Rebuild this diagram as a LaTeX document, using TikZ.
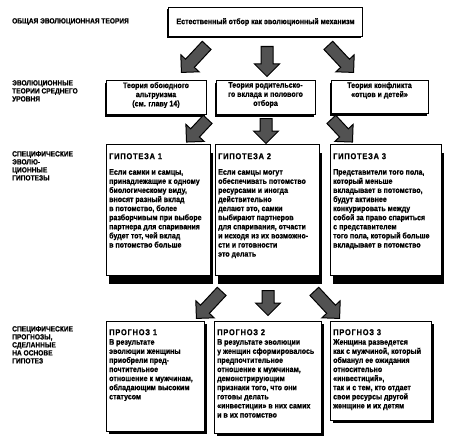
\documentclass[tikz,border=0pt]{standalone}
\usepackage{fontspec}
\setmainfont{Liberation Sans}[FakeStretch=0.88, FakeBold=0.8, UprightFont={* Bold}, BoldFont={* Bold}]
\usetikzlibrary{shapes.arrows,shadows}
\begin{document}
\begin{tikzpicture}[x=1pt,y=-1pt,
  box/.style={draw=black, line width=1pt, fill=white, anchor=north west, inner sep=0pt},
  shadowbl/.style={general shadow={fill=black, shadow xshift=-1.5pt, shadow yshift=-2pt}},
  shadowbr/.style={general shadow={fill=black, shadow xshift=2pt, shadow yshift=-2pt}},
  shadowbar/.style={general shadow={fill=black, shadow xshift=2pt, shadow yshift=-8pt}},
  txt/.style={anchor=north west, align=left, inner sep=0pt, font=\fontsize{8}{9.1}\selectfont},
  ctxt/.style={anchor=north, align=center, inner sep=0pt, font=\fontsize{8}{9.1}\selectfont},
  ttl/.style={anchor=north west, align=left, inner sep=0pt, font=\fontsize{8.5}{9.5}\selectfont\addfontfeature{LetterSpace=9}},
  lbl/.style={anchor=north west, align=left, inner sep=0pt, font=\fontsize{7.5}{8}\selectfont},
  bigarrow/.style={single arrow, draw=black, line width=1pt, fill=black!68, inner sep=0pt,
     text height=5.5pt, text depth=5.5pt, single arrow head extend=6.5pt, minimum height=#1, anchor=tail}
]
\useasboundingbox[fill=white] (0,0) rectangle (454,436);

% left labels
\node[lbl] (l1) at (12,18) {ОБЩАЯ ЭВОЛЮЦИОННАЯ ТЕОРИЯ};
\node[lbl] (l2) at (12,80) {ЭВОЛЮЦИОННЫЕ\\ТЕОРИИ СРЕДНЕГО\\УРОВНЯ};
\node[lbl] (l3) at (12,151) {СПЕЦИФИЧЕСКИЕ\\ЭВОЛЮ-\\ЦИОННЫЕ\\ГИПОТЕЗЫ};
\node[lbl] (l4) at (12,326) {СПЕЦИФИЧЕСКИЕ\\ПРОГНОЗЫ,\\СДЕЛАННЫЕ\\НА ОСНОВЕ\\ГИПОТЕЗ};

% top box
\node[box, shadowbl, minimum width=194pt, minimum height=29pt, font=\fontsize{8}{9}\selectfont] (top) at (168,7)
  {Естественный отбор как эволюционный механизм};

% middle boxes
\node[box, shadowbl, minimum width=100pt, minimum height=34pt] (m1) at (106,80) {};
\node[box, shadowbl, minimum width=99pt, minimum height=34pt] (m2) at (216,80) {};
\node[box, shadowbl, minimum width=97pt, minimum height=33pt] (m3) at (331,80) {};
\node[ctxt] (m1t) at (156,82) {Теория обоюдного\\альтруизма\\(см. главу 14)};
\node[ctxt] (m2t) at (265.5,82) {Теория родительско-\\го вклада и полового\\отбора};
\node[ctxt] (m3t) at (379.5,82) {Теория конфликта\\«отцов и детей»};

% hypothesis boxes
\node[box, shadowbar, minimum width=104pt, minimum height=131pt] (h1) at (106,144) {};
\node[box, shadowbar, minimum width=104pt, minimum height=131pt] (h2) at (215,144) {};
\node[box, shadowbar, minimum width=111pt, minimum height=131pt] (h3) at (330,144) {};
\node[ttl] (h1h) at (109,153) {ГИПОТЕЗА 1};
\node[ttl] (h2h) at (218,153) {ГИПОТЕЗА 2};
\node[ttl] (h3h) at (333,153) {ГИПОТЕЗА 3};
\node[txt] (h1t) at (109,169) {Если самки и самцы,\\принадлежащие к одному\\биологическому виду,\\вносят разный вклад\\в потомство, более\\разборчивым при выборе\\партнера для спаривания\\будет тот, чей вклад\\в потомство больше};
\node[txt] (h2t) at (218,169) {Если самцы могут\\обеспечивать потомство\\ресурсами и иногда\\действительно\\делают это, самки\\выбирают партнеров\\для спаривания, отчасти\\и исходя из их возможно-\\сти и готовности\\это делать};
\node[txt] (h3t) at (333,169) {Представители того пола,\\который меньше\\вкладывает в потомство,\\будут активнее\\конкурировать между\\собой за право спариться\\с представителем\\того пола, который больше\\вкладывает в потомство};

% prediction boxes
\node[box, shadowbr, minimum width=98pt, minimum height=110pt] (p1) at (106,321) {};
\node[box, shadowbr, minimum width=107pt, minimum height=112pt] (p2) at (214,321) {};
\node[box, shadowbr, minimum width=101pt, minimum height=99pt] (p3) at (330,321) {};
\node[ttl] (p1h) at (109,329) {ПРОГНОЗ 1};
\node[ttl] (p2h) at (217,329) {ПРОГНОЗ 2};
\node[ttl] (p3h) at (333,329) {ПРОГНОЗ 3};
\node[txt] (p1t) at (109,339) {В результате\\эволюции женщины\\приобрели пред-\\почтительное\\отношение к мужчинам,\\обладающим высоким\\статусом};
\node[txt] (p2t) at (217,339) {В результате эволюции\\у женщин сформировалось\\предпочтительное\\отношение к мужчинам,\\демонстрирующим\\признаки того, что они\\готовы делать\\«инвестиции» в них самих\\и в их потомство};
\node[txt] (p3t) at (333,339) {Женщина разведется\\как с мужчиной, который\\обманул ее ожидания\\относительно\\«инвестиций»,\\так и с тем, кто отдает\\свои ресурсы другой\\женщине и их детям};

% arrows: top -> middle
\node[bigarrow=37pt, rotate=-133] (a1) at (207,45) {};
\node[bigarrow=30pt, rotate=-90] (a2) at (267,46) {};
\node[bigarrow=37pt, rotate=-47] (a3) at (328,45) {};
% middle -> hypotheses
\node[bigarrow=31pt, rotate=-133] (a4) at (208,119) {};
\node[bigarrow=25pt, rotate=-90] (a5) at (266,118) {};
\node[bigarrow=31pt, rotate=-47] (a6) at (331,119) {};
% hypotheses -> predictions
\node[bigarrow=37pt, rotate=-133] (a7) at (222,291) {};
\node[bigarrow=25pt, rotate=-90] (a8) at (268,290) {};
\node[bigarrow=37pt, rotate=-47] (a9) at (314,291) {};
\end{tikzpicture}
\end{document}
